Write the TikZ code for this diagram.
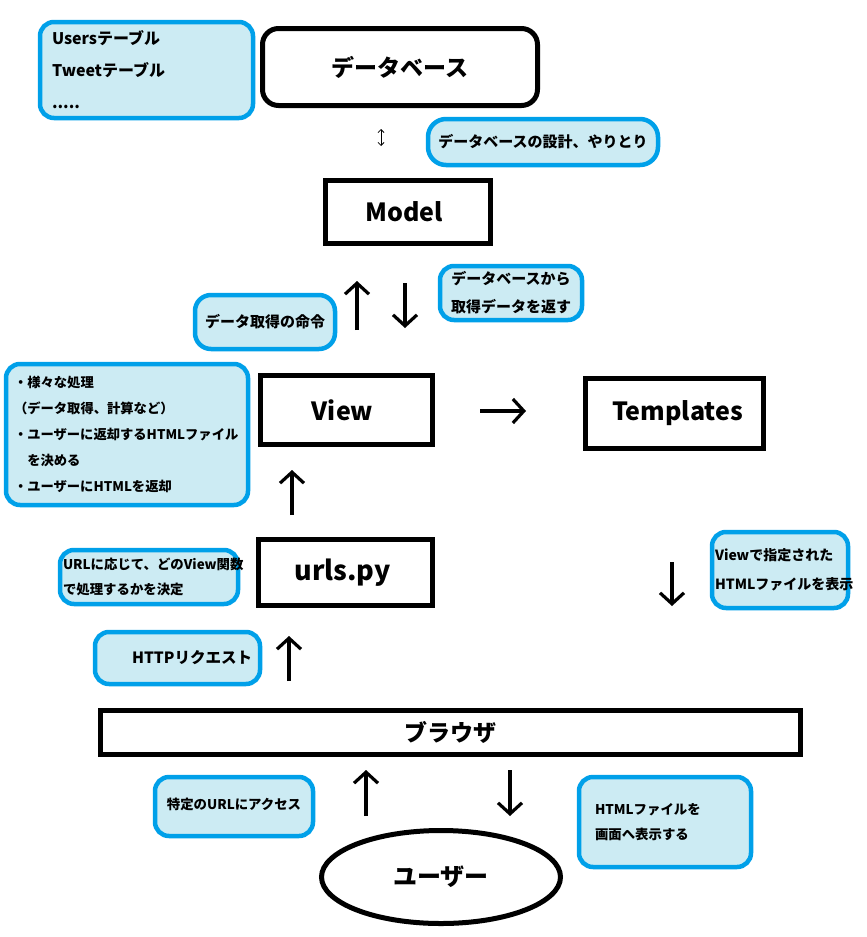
\documentclass[tikz,border=0pt]{standalone}
\usepackage{fontspec}
\setmainfont{Noto Sans CJK JP}
\usetikzlibrary{arrows.meta,shapes.geometric}
\definecolor{cblue}{RGB}{0,160,233}
\definecolor{cfill}{RGB}{204,235,243}
\begin{document}
\begin{tikzpicture}[x=1pt,y=-1pt,
  bbox/.style={draw=cblue, fill=cfill, line width=4.5pt, rounded corners=14pt, inner sep=0pt, font=\bfseries\fontsize{15}{28}\selectfont},
  kbox/.style={draw=black, line width=5pt, fill=white, inner sep=0pt, font=\bfseries\fontsize{25}{30}\selectfont},
  arr/.style={line width=3.2pt, -{Straight Barb[length=11pt,width=24pt]}},
  darr/.style={line width=0.8pt, {Straight Barb[length=3pt,width=6pt]}-{Straight Barb[length=3pt,width=6pt]}}]
\useasboundingbox (0,0) rectangle (867,937);
\fill[white] (0,0) rectangle (867,937);

\node[bbox, minimum width=213, minimum height=96, text width=189, align=left, font=\bfseries\fontsize{16}{32}\selectfont] (tables) at (146.5,70) {Usersテーブル\\Tweetテーブル\\.....};
\node[kbox, rounded corners=16pt, minimum width=275, minimum height=77, font=\bfseries\fontsize{23}{28}\selectfont] (db) at (400,67) {データベース};
\node[bbox, rounded corners=18pt, minimum width=230, minimum height=46] (dbnote) at (543,142) {データベースの設計、やりとり};
\node[kbox, minimum width=165, minimum height=63] (model) at (408,212) {\hspace*{-8pt}Model};
\node[bbox, rounded corners=16pt, minimum width=140, minimum height=54] (req) at (265,322) {データ取得の命令};
\node[bbox, minimum width=142, minimum height=54, align=center] (ret) at (511,293) {データベースから\\取得データを返す};
\node[bbox, minimum width=242, minimum height=141, text width=226, align=left, font=\bfseries\fontsize{13.3}{26}\selectfont] (proc) at (127,434.5) {・様々な処理\\（データ取得、計算など）\\・ユーザーに返却するHTMLファイル\\　を決める\\・ユーザーにHTMLを返却};
\node[kbox, minimum width=172, minimum height=69] (view) at (346.5,410) {\hspace*{-8pt}View};
\node[kbox, minimum width=178, minimum height=70] (tmpl) at (674.5,413.5) {\hspace*{6pt}Templates};
\node[kbox, minimum width=174, minimum height=66, font=\bfseries\fontsize{27}{30}\selectfont] (urls) at (345.5,572.5) {\hspace*{-6pt}urls.py};
\node[bbox, minimum width=178, minimum height=54, text width=172, align=left, font=\bfseries\fontsize{13.4}{25}\selectfont] (urlnote) at (149,577) {URLに応じて、どのView関数\\で処理するかを決定};
\node[bbox, minimum width=165, minimum height=52, text width=149, align=right, font=\bfseries\fontsize{15.5}{20}\selectfont] (http) at (177.5,658) {HTTPリクエスト};
\node[bbox, minimum width=136, minimum height=76, text width=130, align=left, font=\bfseries\fontsize{14}{29}\selectfont] (shown) at (780,570) {Viewで指定された\\HTMLファイルを表示};
\node[kbox, minimum width=700, minimum height=44, font=\bfseries\fontsize{23}{28}\selectfont] (browser) at (450.5,732.5) {ブラウザ};
\node[bbox, minimum width=158, minimum height=59, font=\bfseries\fontsize{13.4}{20}\selectfont] (access) at (234,806.5) {\raisebox{5pt}{特定のURLにアクセス}};
\node[bbox, minimum width=172, minimum height=90, text width=140, align=left, font=\bfseries\fontsize{13.4}{25.5}\selectfont] (display) at (665,822) {HTMLファイルを\\画面へ表示する};
\node[draw, line width=5pt, ellipse, fill=white, minimum width=239, minimum height=93, inner sep=0pt, font=\bfseries\fontsize{24}{28}\selectfont] (user) at (441,877) {ユーザー};

\coordinate (d1) at (381,129); \coordinate (d2) at (381,146);
\coordinate (a1s) at (357,330); \coordinate (a1e) at (357,281);
\coordinate (a2s) at (405,283); \coordinate (a2e) at (405,328);
\coordinate (a3s) at (480,411); \coordinate (a3e) at (526,411);
\coordinate (a4s) at (292,515); \coordinate (a4e) at (292,470);
\coordinate (a5s) at (289,681); \coordinate (a5e) at (289,636);
\coordinate (a6s) at (672,562); \coordinate (a6e) at (672,606);
\coordinate (a7s) at (366,816); \coordinate (a7e) at (366,770);
\coordinate (a8s) at (510,770); \coordinate (a8e) at (510,816);

\draw[darr] (d1) -- (d2);
\draw[arr] (a1s) -- (a1e);
\draw[arr] (a2s) -- (a2e);
\draw[arr] (a3s) -- (a3e);
\draw[arr] (a4s) -- (a4e);
\draw[arr] (a5s) -- (a5e);
\draw[arr] (a6s) -- (a6e);
\draw[arr] (a7s) -- (a7e);
\draw[arr] (a8s) -- (a8e);
\end{tikzpicture}
\end{document}
